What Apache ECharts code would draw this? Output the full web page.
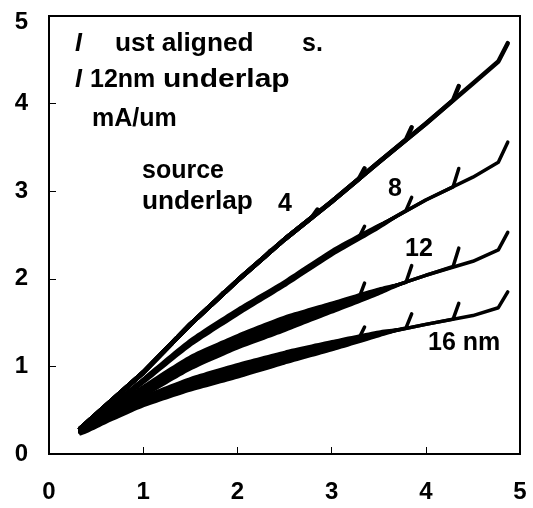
<!DOCTYPE html>
<html><head><meta charset="utf-8">
<script src="https://cdn.jsdelivr.net/npm/echarts@6/dist/echarts.min.js"></script>
<style>html,body{margin:0;padding:0;background:#fff}#c{width:533px;height:508px}</style>
</head><body><div id="c"></div>
<script>
// ---- data ----
const xTicks = [0, 1, 2, 3, 4, 5];
const yTicks = [0, 1, 2, 3, 4, 5];
const groupNames = ['4', '8', '12', '16 nm'];

// main curve of each underlap group
const baseX   = [0.33, 0.6, 1.0, 1.5, 2.0, 2.5, 3.0, 3.5, 4.0, 4.5, 4.8];
const base4   = [0.29, 0.55, 0.93, 1.48, 1.98, 2.45, 2.88, 3.33, 3.77, 4.23, 4.50];
const base8   = [0.28, 0.50, 0.83, 1.27, 1.62, 1.95, 2.30, 2.60, 2.90, 3.16, 3.34];
const base12  = [0.27, 0.45, 0.72, 1.04, 1.28, 1.48, 1.67, 1.86, 2.04, 2.20, 2.34];
const base16  = [0.25, 0.40, 0.60, 0.80, 0.95, 1.10, 1.24, 1.37, 1.48, 1.58, 1.68];

// each curve ends with an upward hook
const hookStartX = [1.29, 1.79, 2.29, 2.79, 3.29, 3.79, 4.29, 4.77];
const hookEndX   = [1.35, 1.85, 2.35, 2.85, 3.35, 3.85, 4.35, 4.87];
const hookBase4  = [1.25, 1.77, 2.25, 2.70, 3.14, 3.59, 4.04, 4.48];
const hookTip4   = [1.32, 1.84, 2.32, 2.79, 3.26, 3.73, 4.20, 4.69];
const hookBase8  = [1.09, 1.48, 1.81, 2.15, 2.47, 2.78, 3.05, 3.33];
const hookTip8   = [1.14, 1.53, 1.86, 2.20, 2.60, 2.93, 3.26, 3.56];
const hookBase12 = [0.90, 1.18, 1.40, 1.59, 1.78, 1.96, 2.14, 2.33];
const hookTip12  = [0.95, 1.23, 1.45, 1.64, 1.95, 2.15, 2.35, 2.53];
const hookBase16 = [0.72, 0.89, 1.04, 1.18, 1.32, 1.44, 1.54, 1.67];
const hookTip16  = [0.77, 0.94, 1.09, 1.23, 1.45, 1.60, 1.72, 1.85];

// spread of the bundled curves (lower / upper edge)
const bandX      = [0.33, 0.6, 1.0, 1.5, 2.0, 2.5, 3.0, 3.5, 3.9];
const bandLow8   = [0.25, 0.46, 0.79, 1.22, 1.57, 1.90, 2.25, 2.56, 2.84];
const bandHigh8  = [0.32, 0.54, 0.88, 1.32, 1.67, 1.99, 2.34, 2.63, 2.84];
const bandLow12  = [0.22, 0.39, 0.64, 0.95, 1.19, 1.39, 1.60, 1.81, 2.00];
const bandHigh12 = [0.32, 0.50, 0.79, 1.13, 1.37, 1.58, 1.74, 1.90, 2.00];
const bandLow16  = [0.21, 0.34, 0.53, 0.71, 0.86, 1.02, 1.17, 1.33, 1.46];
const bandHigh16 = [0.30, 0.45, 0.67, 0.88, 1.04, 1.18, 1.30, 1.41, 1.46];

// ---- build the chart ----
const FONT = '"Liberation Sans", Arial, sans-serif';
const groups = [
  {base: base4, hb: hookBase4, ht: hookTip4},
  {base: base8, hb: hookBase8, ht: hookTip8},
  {base: base12, hb: hookBase12, ht: hookTip12},
  {base: base16, hb: hookBase16, ht: hookTip16}
];
const series = [];
function band(low, high) {
  const pts = bandX.map((x, i) => [x, high[i]]).concat(bandX.map((x, i) => [x, low[i]]).reverse());
  return {
    type: 'custom', silent: true, z: 2, data: [[0, 0]],
    renderItem: (p, api) => ({
      type: 'polygon',
      shape: {points: pts.map(q => api.coord(q)), smooth: 0.2},
      style: {fill: '#000'}
    })
  };
}
series.push(band(bandLow8, bandHigh8), band(bandLow12, bandHigh12), band(bandLow16, bandHigh16));
groups.forEach((g, gi) => {
  hookStartX.forEach((hs, i) => {
    const d = [];
    baseX.forEach((x, k) => { if (x < hs) d.push([x, g.base[k]]); });
    d.push([hs, g.hb[i]]);
    d.push([hookEndX[i], g.ht[i]]);
    series.push({
      type: 'line', name: groupNames[gi], data: d, showSymbol: false, symbol: 'none',
      smooth: false, silent: true, z: 3,
      lineStyle: {color: '#000', width: gi === 0 ? 4.5 : 3.5, cap: 'round', join: 'round'}
    });
  });
});

function txt(text, x, y, opt) {
  opt = opt || {};
  return {type: 'text', x: x, y: y, silent: true, scaleX: opt.sx || 1,
    style: {text: text, fill: '#000', font: (opt.it ? 'italic ' : '') + 'bold ' + (opt.fs || 25) + 'px ' + FONT,
      align: 'left', verticalAlign: 'middle'}};
}

const chart = echarts.init(document.getElementById('c'), null, {renderer: 'canvas'});
chart.setOption({
  animation: false,
  backgroundColor: '#fff',
  grid: {left: 49, right: 13, top: 16, bottom: 54, show: true, borderColor: '#000', borderWidth: 2, backgroundColor: 'transparent'},
  xAxis: {
    type: 'value', min: xTicks[0], max: xTicks[xTicks.length - 1], interval: 1,
    axisLine: {lineStyle: {color: '#000', width: 2}},
    axisTick: {inside: true, length: 7, lineStyle: {color: '#000', width: 1}},
    splitLine: {show: false},
    axisLabel: {color: '#000', fontSize: 24, fontWeight: 'bold', fontFamily: FONT, margin: 26}
  },
  yAxis: {
    type: 'value', min: yTicks[0], max: yTicks[yTicks.length - 1], interval: 1,
    axisLine: {lineStyle: {color: '#000', width: 2}},
    axisTick: {inside: true, length: 7, lineStyle: {color: '#000', width: 1}},
    splitLine: {show: false},
    axisLabel: {color: '#000', fontSize: 24, fontWeight: 'bold', fontFamily: FONT, margin: 21,
      formatter: v => v === 5 ? '{t|5}' : String(v),
      rich: {t: {fontSize: 24, fontWeight: 'bold', fontFamily: FONT, color: '#000', padding: [12, 0, 0, 0]}}}
  },
  graphic: [
    txt('I', 75, 44, {it: true}), txt('ust aligned', 115, 44, {sx: 1.05}), txt('s.', 302, 44),
    txt('I', 75, 80, {it: true}), txt('12nm', 90, 80), txt('underlap', 163, 80, {sx: 1.2}),
    txt('mA/um', 92, 119),
    txt('source', 142, 171), txt('underlap', 142, 202, {sx: 1.05}), txt('4', 278, 204),
    txt('8', 388, 189), txt('12', 405, 249), txt('16 nm', 428, 343)
  ],
  series: series
});
</script></body></html>
